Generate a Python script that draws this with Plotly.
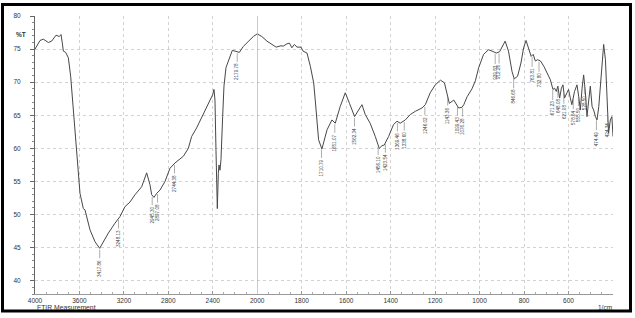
import numpy as np
import plotly.graph_objects as go

# ---- spectrum data (wavenumber 1/cm, %T) ----
wn_high = [4000, 3955, 3925, 3901, 3880, 3850, 3826, 3811, 3781, 3766, 3754, 3745, 3724, 3715,
           3700, 3679, 3664, 3655, 3640, 3625, 3607, 3595, 3565, 3550, 3505, 3460, 3418, 3385,
           3340, 3280, 3235, 3190, 3145, 3100, 3040, 2995, 2965, 2950, 2929, 2905, 2875, 2830,
           2785, 2740, 2665, 2620, 2590, 2545, 2485, 2440, 2401, 2389, 2380, 2371, 2365, 2359,
           2350, 2344, 2335, 2326, 2311, 2299, 2281, 2251, 2224, 2200, 2161, 2125, 2080, 2035, 2000]
t_high = [75.0, 76.3, 76.5, 76.2, 76.0, 76.2, 76.8, 77.1, 76.9, 77.2, 75.9, 74.7, 74.5, 74.2,
          73.7, 70.9, 67.8, 65.8, 62.8, 59.8, 55.7, 53.2, 50.9, 50.7, 47.7, 45.9, 44.9, 45.9,
          47.2, 48.7, 49.7, 51.2, 51.9, 53.0, 54.2, 56.3, 54.5, 53.0, 52.6, 53.2, 53.7, 55.0,
          57.0, 57.8, 58.8, 60.0, 61.8, 63.1, 65.1, 66.8, 68.1, 68.9, 67.3, 59.8, 54.2, 50.9,
          56.2, 57.5, 56.7, 58.3, 64.8, 69.4, 72.2, 73.7, 74.8, 74.7, 74.5, 75.4, 76.2, 76.9, 77.3]

wn_low = [2000, 1979, 1956, 1934, 1915, 1893, 1883, 1866, 1855, 1844, 1833, 1821, 1803, 1794,
          1776, 1761, 1746, 1739, 1731, 1724, 1709, 1686, 1664, 1649, 1627, 1604, 1585, 1562,
          1544, 1529, 1514, 1492, 1469, 1451, 1439, 1429, 1409, 1387, 1371, 1357, 1334, 1312,
          1289, 1259, 1244, 1222, 1199, 1176, 1158, 1146, 1136, 1116, 1101, 1094, 1079, 1071,
          1056, 1034, 1019, 1004, 982, 960, 944, 925, 910, 900, 885, 870, 854, 844, 829, 814,
          802, 791, 779, 768, 759, 749, 739, 726, 711, 696, 682, 670, 663, 655, 648, 640, 632,
          625, 618, 607, 600, 592, 585, 573, 562, 554, 547, 539, 532, 524, 517, 509, 502, 494,
          487, 479, 472, 464, 457, 449, 442, 434, 427, 420, 412, 405, 400]
t_low = [77.3, 76.9, 76.2, 75.7, 75.3, 75.5, 75.45, 75.8, 75.9, 75.2, 75.7, 75.3, 75.3, 74.7,
         74.4, 72.4, 69.9, 67.3, 63.8, 61.3, 59.9, 62.8, 64.3, 63.8, 66.3, 68.4, 66.8, 64.8,
         65.8, 66.6, 65.1, 63.8, 61.8, 60.0, 60.4, 60.5, 61.8, 63.6, 64.1, 63.8, 64.3, 65.1,
         65.6, 66.1, 66.6, 68.4, 69.6, 70.3, 69.9, 68.4, 66.8, 67.3, 66.6, 66.1, 66.2, 66.6,
         67.8, 69.0, 70.2, 72.2, 74.2, 74.9, 74.7, 74.4, 74.6, 75.2, 76.2, 74.7, 71.6, 70.5,
         70.9, 72.9, 75.2, 76.3, 74.9, 73.9, 74.2, 73.2, 73.4, 73.2, 72.4, 71.4, 70.4, 68.9,
         69.1, 68.6, 69.4, 67.6, 69.1, 69.6, 67.6, 68.4, 68.9, 67.6, 66.6, 68.6, 69.6, 67.8,
         65.8, 69.1, 71.1, 68.4, 64.8, 67.3, 69.4, 66.3, 65.8, 64.8, 64.3, 66.3, 69.4, 72.9,
         75.7, 73.4, 67.8, 62.3, 64.3, 64.8, 61.8]

# ---- peak labels ----
peak_wn = [3417.86, 3248.13, 2945.30, 2897.08, 2744.38, 2179.78,
           1710.79, 1651.07, 1562.34, 1456.10, 1423.54, 1369.46, 1338.60, 1246.02,
           1143.36, 1099.43, 1076.28, 929.83, 912.26, 846.68, 763.81, 732.80,
           671.23, 648.08, 621.08, 578.64, 555.50, 528.50, 474.49, 424.34]

x_ticks_high = [4000, 3600, 3200, 2800, 2400, 2000]
x_ticks_low = [1800, 1600, 1400, 1200, 1000, 800, 600]

all_wn = np.array(wn_high + wn_low[1:])[::-1]
all_t = np.array(t_high + t_low[1:])[::-1]

FONT = "Liberation Sans"
LINE = "#474747"
GRID = "#d2d2d2"

fig = go.Figure()
fig.add_trace(go.Scatter(x=wn_high, y=t_high, mode="lines", xaxis="x", yaxis="y",
                         line=dict(color=LINE, width=1), showlegend=False, hoverinfo="skip"))
fig.add_trace(go.Scatter(x=wn_low, y=t_low, mode="lines", xaxis="x2", yaxis="y",
                         line=dict(color=LINE, width=1), showlegend=False, hoverinfo="skip"))

split = 222.2 / 578.0

for w in peak_wn:
    t = float(np.interp(w, all_wn, all_t))
    xr = "x" if w >= 2000 else "x2"
    fig.add_annotation(x=w, y=t, xref=xr, yref="y", text=f"{w:.2f}", textangle=-90,
                       showarrow=True, arrowhead=0, arrowwidth=0.6, arrowcolor="#777",
                       ax=0, ay=20, standoff=1.5,
                       font=dict(family=FONT, size=4.6, color="#444"))

axis_common = dict(showgrid=True, gridcolor=GRID, griddash="dot", gridwidth=1,
                   showline=True, linecolor="#999", linewidth=1, zeroline=False,
                   ticks="inside", ticklen=3, tickcolor="#999", tickwidth=1,
                   tickfont=dict(family=FONT, size=6.5, color="#333"))

fig.update_layout(
    width=635, height=318,
    margin=dict(l=35, r=22, t=16, b=24),
    paper_bgcolor="white", plot_bgcolor="white",
    xaxis=dict(domain=[0, split], range=[4000, 2000], tickmode="array",
               tickvals=x_ticks_high, ticktext=[str(v) for v in x_ticks_high],
               minor=dict(dtick=100, ticklen=2, tickcolor="#aaa", ticks="inside", showgrid=False),
               anchor="y", **axis_common),
    xaxis2=dict(domain=[split, 1], range=[2000, 400], tickmode="array",
                tickvals=x_ticks_low, ticktext=[str(v) for v in x_ticks_low],
                minor=dict(dtick=50, ticklen=2, tickcolor="#aaa", ticks="inside", showgrid=False),
                anchor="y", **axis_common),
    yaxis=dict(range=[38, 80], tick0=40, dtick=5, showgrid=True, gridcolor=GRID, griddash="dot",
               showline=True, linecolor="#666", linewidth=1, zeroline=False,
               ticks="outside", ticklen=4, tickcolor="#666",
               minor=dict(dtick=1, ticklen=2, tickcolor="#888", ticks="outside", showgrid=False),
               ticklabelstandoff=8,
               tickfont=dict(family=FONT, size=6.5, color="#333"), anchor="x"),
)

# darker divider at 2000
fig.add_shape(type="line", xref="x2", yref="y", x0=2000, x1=2000, y0=38, y1=80,
              line=dict(color="#a0a0a0", width=1))

# outer frame
fig.add_shape(type="rect", xref="paper", yref="paper",
              x0=(2.5 - 35) / 578, x1=(630.5 - 35) / 578,
              y0=(294 - 311) / 278, y1=(294 - 4.5) / 278,
              line=dict(color="black", width=3), layer="above")

fig.add_annotation(text="<b>%T</b>", xref="paper", yref="paper", x=(14 - 35) / 578,
                   y=(294 - 34) / 278, xanchor="left", yanchor="middle", showarrow=False,
                   font=dict(family=FONT, size=6.5, color="#333"))
fig.add_annotation(text="FTIR Measurement", xref="paper", yref="paper", x=0,
                   y=(294 - 307) / 278, xanchor="left", yanchor="middle", showarrow=False,
                   font=dict(family=FONT, size=6.8, color="#333"))
fig.add_annotation(text="1/cm", xref="paper", yref="paper", x=(605 - 35) / 578,
                   y=(294 - 307.5) / 278, xanchor="center", yanchor="middle", showarrow=False,
                   font=dict(family=FONT, size=6.5, color="#333"))

fig.write_html("out.html", config={"displayModeBar": False},
               post_script="document.body.style.margin='0';document.body.style.overflow='hidden';")
